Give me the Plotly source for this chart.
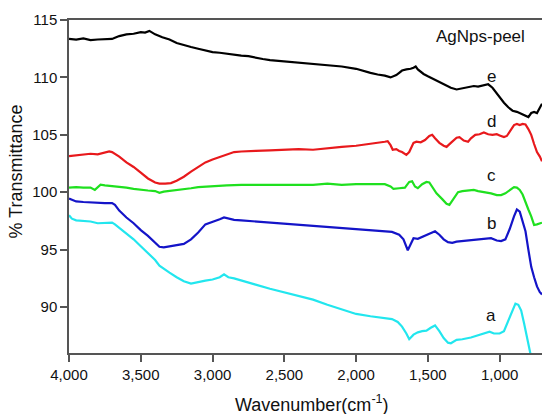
import plotly.graph_objects as go

# ---- data ----
wn_e = [4000,3950,3900,3850,3800,3750,3700,3680,3650,3600,3550,3500,3470,3440,3420,3400,3350,3300,3250,3200,3150,3100,3050,3000,2950,2900,2850,2800,2750,2700,2650,2600,2500,2400,2300,2200,2100,2000,1950,1900,1850,1800,1760,1745,1720,1700,1680,1650,1620,1600,1585,1570,1550,1530,1500,1470,1440,1420,1380,1340,1300,1280,1250,1210,1180,1150,1110,1080,1050,1020,1000,970,940,910,880,850,820,800,780,760,740,720,705]
t_e = [113.35,113.3,113.4,113.25,113.3,113.3,113.35,113.45,113.6,113.75,113.8,113.95,113.9,114.05,113.9,113.75,113.5,113.3,113.0,112.8,112.65,112.5,112.35,112.2,112.15,112.05,112.0,111.9,111.85,111.7,111.6,111.5,111.4,111.3,111.2,111.05,110.95,110.75,110.55,110.4,110.25,110.15,110.0,110.05,110.2,110.4,110.6,110.7,110.75,110.85,110.95,110.7,110.5,110.3,110.1,109.9,109.7,109.6,109.3,109.1,108.95,109.0,109.1,109.15,109.25,109.2,109.3,109.4,109.1,108.6,108.2,107.8,107.4,107.1,107.0,106.85,106.7,106.55,106.9,107.0,106.9,107.3,107.7]

wn_d = [4000,3950,3900,3850,3800,3750,3720,3700,3650,3600,3550,3500,3450,3400,3370,3330,3290,3250,3200,3150,3100,3050,3000,2950,2900,2850,2800,2750,2700,2600,2500,2400,2300,2200,2100,2000,1900,1850,1800,1780,1760,1745,1720,1700,1680,1650,1630,1600,1580,1550,1520,1490,1470,1450,1420,1390,1370,1340,1300,1280,1250,1220,1200,1170,1140,1110,1080,1050,1020,1000,970,950,920,900,880,860,840,820,800,780,760,740,720,705]
t_d = [103.15,103.2,103.25,103.35,103.3,103.45,103.55,103.5,103.1,102.6,102.2,101.7,101.2,100.85,100.75,100.75,100.8,101.0,101.35,101.8,102.2,102.6,102.85,103.05,103.25,103.5,103.55,103.6,103.6,103.65,103.7,103.75,103.7,103.85,103.95,104.05,104.2,104.3,104.4,104.45,104.1,103.7,103.75,103.6,103.5,103.25,103.5,104.3,104.4,104.35,104.55,104.9,105.0,104.7,104.3,104.05,103.95,104.3,104.75,104.8,104.5,104.4,104.7,105.0,105.05,105.2,105.05,105.0,105.05,104.95,104.8,104.9,105.5,105.85,105.95,105.85,105.95,105.9,105.5,105.0,104.2,103.5,103.1,102.7]

wn_c = [4000,3950,3900,3850,3820,3800,3780,3750,3700,3650,3600,3550,3500,3450,3400,3370,3340,3300,3250,3200,3150,3100,3000,2900,2800,2700,2600,2500,2400,2300,2200,2100,2000,1900,1800,1760,1740,1700,1660,1630,1610,1590,1570,1540,1510,1490,1460,1440,1400,1370,1350,1320,1290,1260,1220,1180,1150,1100,1060,1020,990,960,930,900,880,860,840,820,800,780,760,740,720,705]
t_c = [100.4,100.45,100.4,100.4,100.2,100.45,100.65,100.6,100.55,100.5,100.4,100.3,100.2,100.15,100.1,99.95,100.05,100.1,100.2,100.25,100.35,100.45,100.55,100.6,100.65,100.65,100.7,100.65,100.7,100.65,100.75,100.65,100.7,100.7,100.7,100.5,100.3,100.35,100.4,100.9,100.95,100.5,100.35,100.7,100.9,100.85,100.3,99.9,99.4,99.0,98.9,99.4,100.0,100.1,100.15,100.2,100.1,100.0,99.9,99.75,99.75,99.9,100.2,100.45,100.4,100.2,99.8,99.1,98.5,97.9,97.15,97.2,97.3,97.35]

wn_b = [4000,3950,3900,3850,3800,3750,3700,3680,3650,3600,3550,3500,3450,3400,3370,3340,3300,3250,3200,3150,3100,3050,3000,2950,2920,2880,2850,2800,2700,2600,2500,2400,2300,2200,2100,2000,1900,1800,1750,1700,1670,1640,1620,1600,1570,1540,1510,1480,1450,1420,1390,1360,1330,1300,1250,1200,1150,1100,1060,1020,990,960,930,900,880,860,840,820,800,780,760,740,720,705]
t_b = [99.45,99.2,99.15,99.1,99.05,99.05,99.05,98.9,98.4,97.8,97.3,96.7,96.2,95.6,95.25,95.2,95.3,95.4,95.5,95.9,96.5,97.2,97.4,97.65,97.8,97.65,97.6,97.55,97.45,97.35,97.25,97.15,97.05,96.95,96.85,96.75,96.7,96.55,96.55,96.3,95.9,94.95,95.5,96.0,95.95,96.1,96.25,96.45,96.6,96.3,95.9,95.65,95.6,95.7,95.75,95.8,95.85,95.95,96.0,95.8,95.75,95.9,96.8,97.9,98.5,98.3,97.5,96.6,95.0,93.5,92.6,91.8,91.3,91.1]

wn_a = [4000,3980,3950,3900,3850,3800,3750,3700,3680,3650,3600,3550,3500,3450,3400,3370,3330,3300,3250,3200,3150,3100,3050,3000,2950,2920,2890,2850,2800,2700,2600,2500,2400,2300,2200,2100,2000,1900,1800,1750,1710,1680,1650,1630,1600,1570,1540,1510,1480,1450,1420,1390,1360,1340,1300,1260,1200,1150,1100,1070,1040,1000,970,940,910,890,870,850,830,810,790,780,770]
t_a = [98.0,97.7,97.55,97.5,97.45,97.3,97.3,97.35,97.2,96.9,96.4,95.9,95.3,94.7,94.1,93.6,93.3,93.0,92.6,92.25,92.05,92.2,92.3,92.4,92.6,92.85,92.6,92.5,92.3,91.95,91.6,91.3,91.0,90.65,90.2,89.8,89.4,89.2,89.0,88.95,88.7,88.3,87.7,87.2,87.6,87.8,87.9,87.95,88.2,88.4,87.9,87.3,86.9,86.85,87.15,87.2,87.35,87.55,87.7,87.85,87.7,87.7,87.9,88.8,89.7,90.3,90.2,89.7,88.6,87.5,86.4,85.8,85.0]

series_names = ["e", "d", "c", "b", "a"]
series_x = [wn_e, wn_d, wn_c, wn_b, wn_a]
series_y = [t_e, t_d, t_c, t_b, t_a]
colors = ["#000000", "#e8191c", "#1fe01f", "#1414c8", "#22e6ee"]

label_x = [1060, 1060, 1060, 1060, 1060]
label_y = [110.1, 106.2, 101.5, 97.3, 89.3]

x_ticks = [4000, 3500, 3000, 2500, 2000, 1500, 1000]
y_ticks = [90, 95, 100, 105, 110, 115]

FONT = "Liberation Sans, Arial, sans-serif"

fig = go.Figure()
for name, xs, ys, col in zip(series_names, series_x, series_y, colors):
    fig.add_trace(go.Scatter(x=xs, y=ys, mode="lines", name=name,
                             line=dict(color=col, width=2.2), showlegend=False))

for name, lx, ly in zip(series_names, label_x, label_y):
    fig.add_annotation(x=lx, y=ly, text=name, showarrow=False, xref="x", yref="y",
                       font=dict(family=FONT, size=17, color="#111"))

fig.add_annotation(x=1135, y=113.6, xref="x", yref="y", text="AgNps-peel",
                   showarrow=False, xanchor="center", yanchor="middle",
                   font=dict(family=FONT, size=17, color="#111"))

# axis titles as paper annotations
fig.add_annotation(x=-0.114, y=0.545, xref="paper", yref="paper", text="% Transmittance",
                   textangle=-90, showarrow=False, xanchor="center", yanchor="middle",
                   font=dict(family=FONT, size=18, color="#111"))
fig.add_annotation(x=0.514, y=-0.151, xref="paper", yref="paper", text="Wavenumber(cm<sup>-1</sup>)",
                   showarrow=False, xanchor="center", yanchor="middle",
                   font=dict(family=FONT, size=18, color="#111"))

axis_common = dict(showgrid=False, zeroline=False, showline=True, linecolor="#555",
                   linewidth=1.5, ticks="outside", ticklen=7, tickwidth=1.5, tickcolor="#555",
                   automargin=False,
                   tickfont=dict(family=FONT, size=15, color="#111"))

fig.update_xaxes(range=[4000, 705], tickvals=x_ticks, tickformat=",", mirror=True, **axis_common)
fig.update_yaxes(range=[86, 115], tickvals=y_ticks, **axis_common)

fig.update_layout(width=542, height=414, margin=dict(l=69, r=0, t=20, b=61),
                  plot_bgcolor="white", paper_bgcolor="white",
                  font=dict(family=FONT))

fig.write_html("out.html", config={"displayModeBar": False},
               post_script="document.body.style.margin='0';document.body.style.overflow='hidden';")
